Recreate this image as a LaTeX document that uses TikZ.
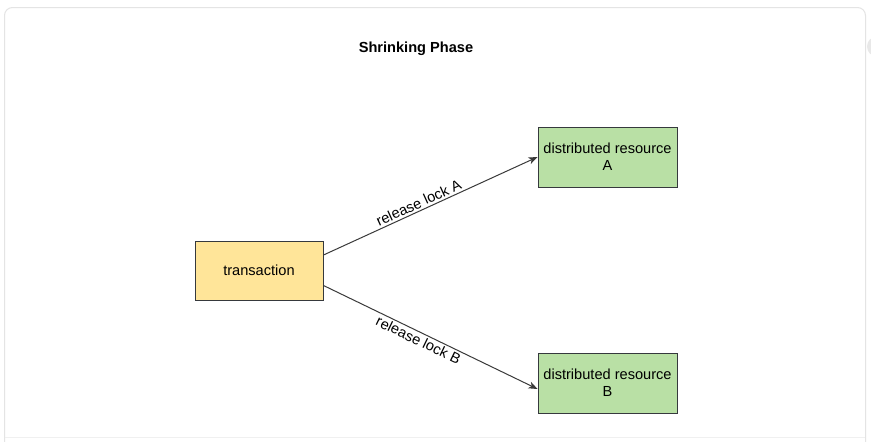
\documentclass[tikz,border=0pt]{standalone}
\usepackage{fontspec}
\setmainfont{Liberation Sans}
\usetikzlibrary{arrows.meta}
\definecolor{framegray}{HTML}{E4E4E4}
\definecolor{linegray}{HTML}{F0F0F0}
\definecolor{dotgray}{HTML}{E8E8E8}
\definecolor{txfill}{HTML}{FFE599}
\definecolor{resfill}{HTML}{B9E0A5}
\definecolor{edgecol}{HTML}{36393D}
\definecolor{arrowcol}{HTML}{3A3A3A}
\tikzset{
  txbox/.style={draw=edgecol, line width=0.9pt, fill=txfill, minimum width=128pt, minimum height=59pt, inner sep=0pt, font=\fontsize{14.6}{17}\selectfont, align=center},
  resbox/.style={draw=edgecol, line width=0.9pt, fill=resfill, minimum width=139pt, minimum height=60pt, inner sep=0pt, font=\fontsize{14.6}{17}\selectfont, align=center},
  conn/.style={draw=arrowcol, line width=1pt, -{Stealth[length=9pt,width=7pt,inset=2.5pt]}},
  lbl/.style={font=\fontsize{14.6}{17}\selectfont, inner sep=0pt, sloped}
}
\begin{document}
\begin{tikzpicture}[x=1pt,y=-1pt]
\useasboundingbox (0,0) rectangle (871,442);
\fill[white] (0,0) rectangle (871,442);
% outer card frame
\draw[framegray, line width=1pt, rounded corners=8pt] (4.5,480) -- (4.5,7.5) -- (865.5,7.5) -- (865.5,480);
\draw[linegray, line width=1pt] (5,437.3) -- (865,437.3);
\fill[dotgray] (877,46.5) circle (10pt);
% title
\node[font=\bfseries\fontsize{14.6}{17}\selectfont] (title) at (416,48.5) {Shrinking Phase};
% nodes
\node[txbox] (tx) at (259,270.5) {transaction};
\node[resbox] (ra) at (607.5,157) {distributed resource\\A};
\node[resbox] (rb) at (607.5,383) {distributed resource\\B};
% connectors
\coordinate (txa) at (323.5,255);
\coordinate (txb) at (323.5,285.5);
\draw[conn] (txa) -- (ra.west) node[lbl, pos=0.46, above=2pt] {release lock A};
\draw[conn] (txb) -- ([yshift=-6pt]rb.west) node[lbl, pos=0.46, below=2pt] {release lock B};
\end{tikzpicture}
\end{document}
